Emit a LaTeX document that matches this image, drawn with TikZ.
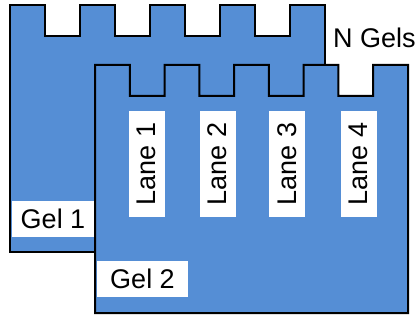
\documentclass[tikz,border=0pt]{standalone}
\usepackage{fontspec}
\setmainfont{Liberation Sans}
\definecolor{gelblau}{RGB}{85,142,213}

\begin{document}
\begin{tikzpicture}[x=1pt,y=-1pt]

	% Stile
	\tikzset{every node/.style={font=\fontsize{27pt}{30pt}\selectfont, inner sep=0pt},
		gel/.style={fill=gelblau, draw=black, line width=2pt, line join=miter},
		etikett/.style={fill=white, minimum height=36pt}}
	\useasboundingbox (0,0) rectangle (420,320);

	% Gel 1 (hinten)
	\draw[gel] (10,5) \foreach \i in {1,...,4} { -- ++(35,0) -- ++(0,31) -- ++(35,0) -- ++(0,-31) }
		-- ++(35,0) -- (325,252) -- (10,252) -- cycle;
	\node[etikett, minimum width=82pt] (gel1) at (53,219) {Gel 1};

	% Gel 2 (vorne)
	\draw[gel] (95,65) \foreach \i in {1,...,4} { -- ++(34.78,0) -- ++(0,31) -- ++(34.78,0) -- ++(0,-31) }
		-- ++(34.78,0) -- (408,313) -- (95,313) -- cycle;
	\node[etikett, minimum width=91pt] (gel2) at (142.5,279) {Gel 2};

	% Spuren
	\foreach \n/\x in {1/146.5,2/217.5,3/287,4/358.5}
		\node[etikett, rotate=90, minimum width=106pt] (lane\n) at (\x,164) {Lane \n};

	% Beschriftung
	\node (ngels) at (374.5,38) {N Gels};

\end{tikzpicture}
\end{document}
